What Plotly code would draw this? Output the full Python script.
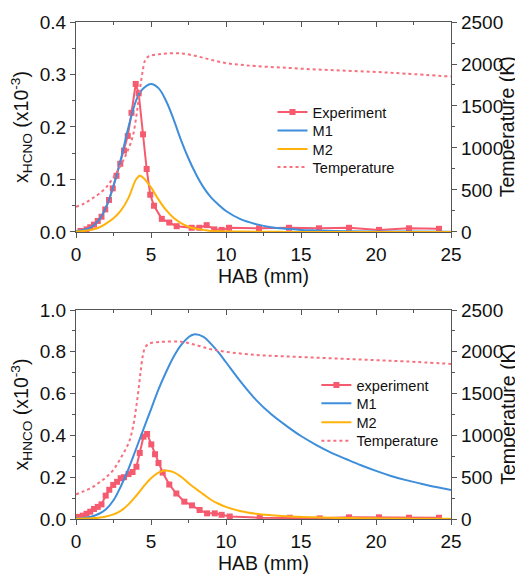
import plotly.graph_objects as go
from plotly.subplots import make_subplots

# ---------------- Top panel: HCNO ----------------
exp_top_x = [0.3, 0.7, 0.95, 1.2, 1.45, 1.7, 1.95, 2.2, 2.45, 2.7, 2.95, 3.2, 3.45, 3.7,
             3.98, 4.18, 4.47, 4.71, 4.95, 5.2, 5.72, 6.22, 6.71, 7.71, 8.22, 8.71,
             9.22, 9.71, 10.2, 12.2, 14.2, 16.2, 18.2, 20.2, 22.2, 24.2]
exp_top_y = [0.002, 0.005, 0.009, 0.014, 0.021, 0.029, 0.043, 0.061, 0.083, 0.107, 0.13,
             0.155, 0.183, 0.227, 0.282, 0.264, 0.186, 0.12, 0.071, 0.05, 0.025, 0.018,
             0.011, 0.008, 0.008, 0.013, 0.005, 0.004, 0.008, 0.007, 0.008, 0.007,
             0.008, 0.004, 0.007, 0.006]

m_top_x = [0, 0.5, 1, 1.5, 2, 2.5, 3, 3.5, 4, 4.25, 4.5, 5, 5.5, 6, 6.5, 7, 7.5, 8, 8.5,
           9, 9.5, 10, 11, 12, 13, 14, 15, 16, 18, 20, 22, 25]
m1_top = [0.002, 0.004, 0.009, 0.022, 0.047, 0.088, 0.14, 0.2, 0.25, 0.265, 0.274, 0.282,
          0.274, 0.25, 0.215, 0.175, 0.14, 0.11, 0.085, 0.066, 0.052, 0.04, 0.024, 0.015,
          0.009, 0.006, 0.004, 0.003, 0.0015, 0.001, 0.0007, 0.0005]
m2_top = [0.001, 0.002, 0.004, 0.008, 0.016, 0.026, 0.041, 0.065, 0.1, 0.107, 0.103,
          0.085, 0.062, 0.042, 0.027, 0.017, 0.01, 0.006, 0.004, 0.002, 0.0015, 0.001,
          0.0007, 0.0005, 0.0003, 0.0002, 0.0001, 0, 0, 0, 0, 0]

t_top_x = [0, 0.5, 1, 1.5, 2, 2.5, 3, 3.5, 3.8, 4.0, 4.15, 4.3, 4.45, 4.6, 4.8, 5, 5.5,
           6, 7, 8, 9, 10, 11, 12, 14, 16, 18, 20, 22, 25]
t_top = [300, 335, 390, 450, 530, 650, 800, 990, 1150, 1350, 1550, 1750, 1920, 2040,
         2085, 2100, 2115, 2125, 2127, 2095, 2050, 2010, 1990, 1975, 1955, 1935, 1920,
         1905, 1885, 1850]

# ---------------- Bottom panel: HNCO ----------------
exp_bot_x = [0.18, 0.45, 0.7, 0.95, 1.2, 1.45, 1.7, 1.98, 2.22, 2.48, 2.74, 2.98, 3.2,
             3.5, 3.77, 4.03, 4.25, 4.5, 4.74, 5.02, 5.27, 5.5, 5.78, 6.22, 6.69, 7.22,
             7.73, 8.24, 8.74, 9.25, 9.71, 10.25, 12.25, 14.25, 16.25, 18.2, 20.2,
             22.2, 24.2]
exp_bot_y = [0.01, 0.016, 0.025, 0.035, 0.048, 0.058, 0.07, 0.112, 0.14, 0.163, 0.178,
             0.195, 0.2, 0.215, 0.225, 0.25, 0.316, 0.394, 0.407, 0.357, 0.31, 0.268,
             0.222, 0.165, 0.122, 0.083, 0.065, 0.043, 0.027, 0.027, 0.02, 0.012,
             0.006, 0.006, 0.003, 0.008, 0.008, 0.006, 0.006]

m_bot_x = [0, 0.5, 1, 1.5, 2, 2.5, 3, 3.5, 4, 4.5, 5, 5.5, 6, 6.5, 7, 7.5, 7.85, 8.5, 9,
           9.5, 10, 11, 12, 13, 14, 15, 16, 17, 18, 19, 20, 21, 22, 23, 24, 25]
m1_bot = [0.002, 0.005, 0.011, 0.024, 0.047, 0.09, 0.158, 0.24, 0.335, 0.43, 0.525,
          0.62, 0.702, 0.775, 0.832, 0.87, 0.883, 0.872, 0.838, 0.797, 0.75, 0.655,
          0.57, 0.502, 0.447, 0.397, 0.355, 0.318, 0.287, 0.257, 0.23, 0.206, 0.186,
          0.169, 0.153, 0.139]
m2_bot = [0.001, 0.002, 0.003, 0.006, 0.012, 0.022, 0.04, 0.07, 0.11, 0.155, 0.195,
          0.222, 0.232, 0.224, 0.202, 0.172, 0.152, 0.118, 0.092, 0.073, 0.058, 0.037,
          0.025, 0.018, 0.013, 0.01, 0.008, 0.006, 0.005, 0.004, 0.003, 0.0025, 0.002,
          0.0015, 0.001, 0.001]

t_bot_x = [0, 0.5, 1, 1.5, 2, 2.5, 3, 3.5, 3.8, 4.0, 4.15, 4.3, 4.45, 4.6, 4.8, 5, 5.5,
           6, 7, 8, 9, 10, 12, 14, 16, 18, 20, 22, 25]
t_bot = [295, 330, 370, 430, 500, 590, 735, 905, 1100, 1320, 1520, 1750, 1950, 2050,
         2090, 2105, 2118, 2122, 2121, 2081, 2030, 2000, 1962, 1945, 1930, 1915, 1900,
         1885, 1855]

EXP = "#F55A6E"
M1C = "#3E8EDB"
M2C = "#FFB20A"
TC = "#F7707E"
FONT = "Liberation Sans, Arial, sans-serif"

fig = make_subplots(rows=2, cols=1,
                    specs=[[{"secondary_y": True}], [{"secondary_y": True}]])

def add_panel(row, ex, ey, mx, m1, m2, tx, tt, exp_name, legs):
    fig.add_trace(go.Scatter(x=ex, y=ey, name=exp_name, mode="lines+markers",
                             line=dict(color=EXP, width=2),
                             marker=dict(symbol="square", size=6, color=EXP),
                             legend=legs[0]), row=row, col=1, secondary_y=False)
    fig.add_trace(go.Scatter(x=mx, y=m1, name="M1", mode="lines",
                             line=dict(color=M1C, width=2, shape="spline"),
                             legend=legs[1]), row=row, col=1, secondary_y=False)
    fig.add_trace(go.Scatter(x=mx, y=m2, name="M2", mode="lines",
                             line=dict(color=M2C, width=2, shape="spline"),
                             legend=legs[2]), row=row, col=1, secondary_y=False)
    fig.add_trace(go.Scatter(x=tx, y=tt, name="Temperature", mode="lines",
                             line=dict(color=TC, width=2, dash="dot", shape="spline"),
                             legend=legs[3]), row=row, col=1, secondary_y=True)

add_panel(1, exp_top_x, exp_top_y, m_top_x, m1_top, m2_top, t_top_x, t_top,
          "Experiment", ["legend", "legend2", "legend3", "legend4"])
add_panel(2, exp_bot_x, exp_bot_y, m_bot_x, m1_bot, m2_bot, t_bot_x, t_bot,
          "experiment", ["legend5", "legend6", "legend7", "legend8"])

AX = "#555555"
tickfont = dict(family=FONT, size=19, color="#111")
titlefont = dict(family=FONT, size=19.5, color="#111")

xcommon = dict(range=[0, 25], dtick=5, tick0=0, ticks="outside", ticklen=5, tickwidth=1.2,
               tickcolor=AX, showline=True, linecolor=AX, linewidth=1.3,
               showgrid=False, zeroline=False, tickfont=tickfont, automargin=False,
               minor=dict(ticks="outside", ticklen=3, dtick=2.5, tickcolor=AX, tickwidth=1.2),
               title=dict(text="HAB (mm)", font=titlefont, standoff=0))

def ycommon(rng, dt, mdt, fmt, title, so):
    d = dict(range=rng, dtick=dt, tick0=0, ticks="outside", ticklen=5, tickwidth=1.2,
             tickcolor=AX, showline=True, linecolor=AX, linewidth=1.3, automargin=False,
             showgrid=False, zeroline=False, tickfont=tickfont, tickformat=fmt,
             minor=dict(ticks="outside", ticklen=3, dtick=mdt, tickcolor=AX, tickwidth=1.2))
    if title:
        d["title"] = dict(text=title, font=titlefont, standoff=so)
    return d

top_dom = [0.5775, 1.0]
bot_dom = [0.0, 0.4205]

fig.update_layout(
    xaxis=dict(**xcommon, domain=[0, 1], anchor="y"),
    xaxis2=dict(**xcommon, domain=[0, 1], anchor="y3"),
    yaxis=dict(**ycommon([0, 0.4], 0.1, 0.05, ".1f",
                         "x<sub>HCNO</sub> (x10<sup>-3</sup>)", 5), domain=top_dom),
    yaxis2=dict(**ycommon([0, 2500], 500, 250, "d", None, 0), domain=top_dom,
                side="right", overlaying="y"),
    yaxis3=dict(**ycommon([0, 1.0], 0.2, 0.1, ".1f",
                          "x<sub>HNCO</sub> (x10<sup>-3</sup>)", 5), domain=bot_dom),
    yaxis4=dict(**ycommon([0, 2500], 500, 250, "d", None, 0), domain=bot_dom,
                side="right", overlaying="y3"),
)

# right-axis titles (placed as rotated annotations so they stay inside the page)
for yref in ("y2 domain", "y4 domain"):
    fig.add_annotation(text="Temperature (K)", textangle=-90, xref="paper", yref=yref,
                       x=1.150, y=0.5, xanchor="center", yanchor="middle",
                       showarrow=False, font=titlefont)

# top-edge inward ticks (frame)
for xa, ya, over in (("xaxis5", "y", "x"), ("xaxis6", "y3", "x2")):
    fig.layout[xa] = dict(overlaying=over, anchor=ya, side="top", range=[0, 25], dtick=5,
                          tick0=0, ticks="inside", ticklen=5, tickwidth=1.2, tickcolor=AX,
                          showline=True, linecolor=AX, linewidth=1.3, showgrid=False,
                          zeroline=False, showticklabels=False, automargin=False,
                          minor=dict(ticks="inside", ticklen=3, dtick=2.5, tickcolor=AX,
                                     tickwidth=1.2))
fig.add_trace(go.Scatter(x=[], y=[], xaxis="x5", yaxis="y", showlegend=False))
fig.add_trace(go.Scatter(x=[], y=[], xaxis="x6", yaxis="y3", showlegend=False))

legfont = dict(family=FONT, size=14.6, color="#111")
legpos = {
    "legend": (0.524, 0.819), "legend2": (0.524, 0.7817),
    "legend3": (0.524, 0.7445), "legend4": (0.524, 0.7082),
    "legend5": (0.641, 0.2696), "legend6": (0.641, 0.2328),
    "legend7": (0.641, 0.1946), "legend8": (0.641, 0.1575),
}
legs = {k: dict(x=v[0], y=v[1], xanchor="left", yanchor="middle", font=legfont,
                bgcolor="rgba(0,0,0,0)", itemwidth=30, visible=True) for k, v in legpos.items()}

# page body adds an 8px offset; figure is sized so the plot sits where the reference has it
fig.update_layout(
    width=515, height=569, showlegend=True,
    margin=dict(l=68, r=72, t=14, b=58, autoexpand=False),
    plot_bgcolor="white", paper_bgcolor="white",
    font=dict(family=FONT, color="#111"),
    **legs,
)

fig.write_html("out.html")
